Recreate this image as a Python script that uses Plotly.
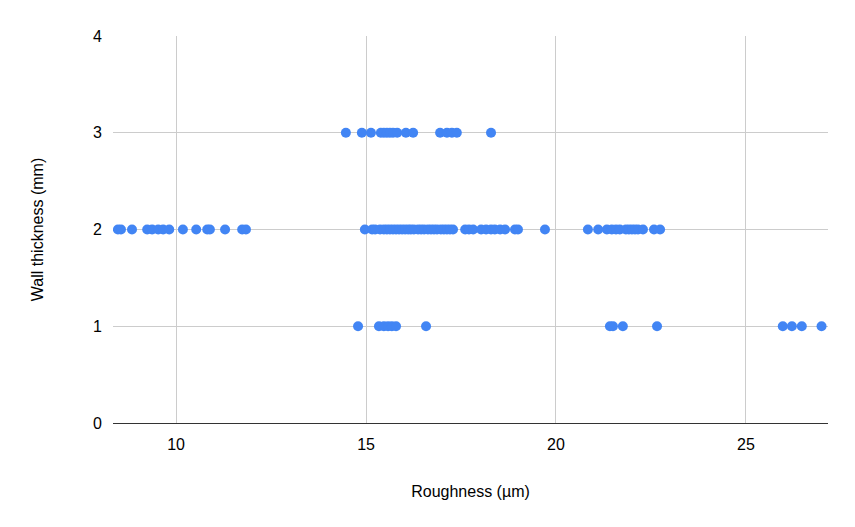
import plotly.graph_objects as go

row1_x = [14.79, 15.34, 15.47, 15.58, 15.68, 15.79, 16.58, 21.42, 21.50, 21.76, 22.66, 25.97, 26.21, 26.47, 26.99]
row2_x = [8.47, 8.55, 8.84, 9.24, 9.37, 9.53, 9.66, 9.82, 10.18, 10.53, 10.82, 10.89, 11.29, 11.74, 11.84,
          14.97, 15.16, 15.24, 15.37, 15.47, 15.55, 15.63, 15.71, 15.79, 15.87, 15.95, 16.03, 16.11, 16.18,
          16.26, 16.37, 16.45, 16.53, 16.63, 16.71, 16.79, 16.87, 16.97, 17.05, 17.13, 17.21, 17.29, 17.61,
          17.71, 17.82, 18.03, 18.16, 18.29, 18.39, 18.53, 18.66, 18.92, 19.0, 19.71,
          20.84, 21.11, 21.34, 21.47, 21.58, 21.68, 21.84, 21.92, 22.0, 22.08, 22.16, 22.29, 22.58, 22.74]
row3_x = [14.47, 14.89, 15.13, 15.39, 15.47, 15.55, 15.63, 15.71, 15.82, 16.05, 16.24, 16.95, 17.13, 17.26, 17.39, 18.29]

roughness = row1_x + row2_x + row3_x
thickness = [1] * len(row1_x) + [2] * len(row2_x) + [3] * len(row3_x)

x_ticks = [10, 15, 20, 25]
y_ticks = [0, 1, 2, 3, 4]

fig = go.Figure(go.Scatter(
    x=roughness, y=thickness, mode="markers",
    marker=dict(color="#4285F4", size=10, line=dict(width=0)),
))

font = "Arial, Liberation Sans, sans-serif"
fig.update_layout(
    width=855, height=527,
    margin=dict(l=105, r=35, t=28, b=112),
    plot_bgcolor="white", paper_bgcolor="white",
    showlegend=False,
    font=dict(family=font, color="#000000", size=15),
)
fig.update_xaxes(
    range=[8.34, 27.16], tickvals=x_ticks, showgrid=True, gridcolor="#cccccc", gridwidth=1,
    zeroline=False, showline=False, ticks="", ticklabelstandoff=10,
    tickfont=dict(size=16, family=font, color="#000000"),
    title=dict(text="Roughness (µm)", font=dict(size=16, family=font, color="#000000"), standoff=33),
)
fig.update_yaxes(
    range=[0, 4], tickvals=y_ticks, showgrid=True, gridcolor="#cccccc", gridwidth=1,
    zeroline=True, zerolinecolor="#333333", zerolinewidth=1, showline=False, ticks="",
    ticklabelstandoff=10,
    tickfont=dict(size=16, family=font, color="#000000"),
    title=dict(text="Wall thickness (mm)", font=dict(size=16, family=font, color="#000000"), standoff=45),
)

fig.write_html("out.html")
